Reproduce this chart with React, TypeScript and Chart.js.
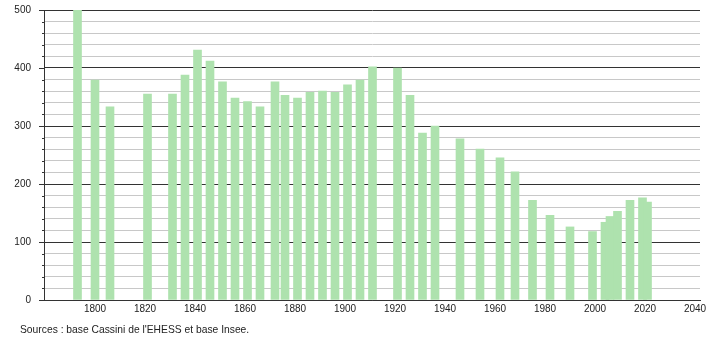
import React, { useEffect, useRef } from 'react';
import { Chart, registerables } from 'chart.js';

Chart.register(...registerables);

const years = [1793, 1800, 1806, 1821, 1831, 1836, 1841, 1846, 1851, 1856, 1861, 1866, 1872, 1876, 1881, 1886, 1891, 1896, 1901, 1906, 1911, 1921, 1926, 1931, 1936, 1946, 1954, 1962, 1968, 1975, 1982, 1990, 1999, 2004, 2006, 2009, 2014, 2019, 2021];
const population = [500, 379, 333, 355, 355, 388, 431, 412, 376, 348, 342, 333, 376, 353, 348, 358, 360, 358, 371, 379, 402, 400, 353, 288, 300, 278, 260, 245, 221, 172, 146, 126, 118, 134, 144, 153, 172, 176, 169];
const xTickLabels = [1800, 1820, 1840, 1860, 1880, 1900, 1920, 1940, 1960, 1980, 2000, 2020, 2040];
const sourceText = "Sources : base Cassini de l'EHESS et base Insee.";

const FONT = "'Liberation Sans', Arial, Helvetica, sans-serif";

export default function App() {
  const ref = useRef<HTMLCanvasElement>(null);

  useEffect(() => {
    const tickMarks = {
      id: 'tickMarks',
      afterDraw(chart: any) {
        const y = chart.scales.y;
        const ctx = chart.ctx;
        ctx.save();
        ctx.strokeStyle = '#333';
        ctx.lineWidth = 1;
        y.ticks.forEach((t: any) => {
          const py = Math.round(y.getPixelForValue(t.value)) + 0.5;
          const len = t.value % 100 === 0 ? 5 : 2;
          ctx.beginPath();
          ctx.moveTo(Math.round(y.right) - len, py);
          ctx.lineTo(Math.round(y.right), py);
          ctx.stroke();
        });
        ctx.restore();
      },
    };

    const noPad = (s: any) => {
      s.paddingTop = 0;
      s.paddingBottom = 0;
      s.paddingLeft = 0;
      s.paddingRight = 0;
    };

    const chart = new Chart(ref.current as HTMLCanvasElement, {
      type: 'bar',
      data: {
        datasets: [
          {
            data: years.map((x, i) => ({ x, y: population[i] })),
            backgroundColor: '#aee2ae',
            borderWidth: 0,
            barThickness: 8,
          } as any,
        ],
      },
      options: {
        animation: false,
        responsive: false,
        maintainAspectRatio: false,
        layout: { padding: { top: 10, right: 10, left: 0, bottom: 0 } },
        plugins: { legend: { display: false }, tooltip: { enabled: false } },
        scales: {
          x: {
            type: 'linear',
            offset: false,
            min: 1779.6,
            max: 2042,
            afterBuildTicks: (s: any) => {
              s.ticks = xTickLabels.map((v) => ({ value: v }));
            },
            afterFit: (s: any) => {
              s.height = 40;
              noPad(s);
            },
            grid: { display: false, drawTicks: false, offset: false },
            border: { display: true, color: '#333' },
            ticks: {
              padding: 3,
              color: '#222',
              autoSkip: false,
              maxRotation: 0,
              font: { family: FONT, size: 10 },
              callback: (v: any) => String(v),
            },
          },
          y: {
            min: 0,
            max: 500,
            afterFit: (s: any) => {
              s.width = 44;
              noPad(s);
            },
            grid: {
              drawTicks: false,
              color: (c: any) => (c.tick && c.tick.value % 100 === 0 ? '#333' : '#c8c8c8'),
            },
            border: { display: true, color: '#333' },
            ticks: {
              stepSize: 20,
              autoSkip: false,
              padding: 13,
              color: '#222',
              font: { family: FONT, size: 10 },
              callback: (v: any) => (v % 100 === 0 ? String(v) : ''),
            },
          },
        },
      } as any,
      plugins: [tickMarks],
    });
    return () => chart.destroy();
  }, []);

  return (
    <div style={{ position: 'absolute', left: 0, top: 0, width: 710, height: 340, background: '#fff' }}>
      <canvas ref={ref} width={710} height={340} style={{ display: 'block', width: 710, height: 340 }} />
      <div
        style={{
          position: 'absolute',
          left: 20,
          top: 323,
          fontFamily: FONT,
          fontSize: 10.3,
          lineHeight: '13px',
          color: '#222',
          whiteSpace: 'nowrap',
        }}
      >
        {sourceText}
      </div>
    </div>
  );
}
